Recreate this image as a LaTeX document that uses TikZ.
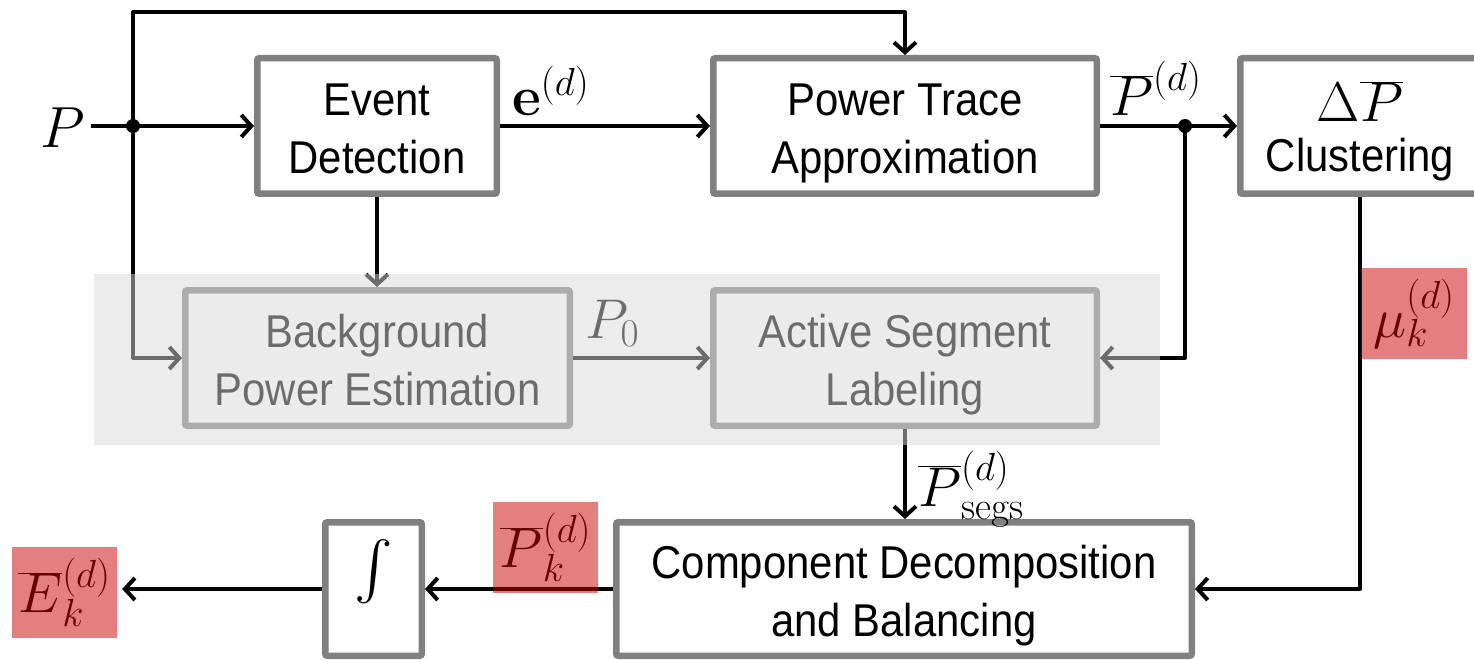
\RequirePackage{fix-cm}
\documentclass[tikz,border=0pt]{standalone}
\usepackage[no-math]{fontspec}
\setmainfont{Liberation Sans}[FakeStretch=0.91]
\usetikzlibrary{arrows.meta}
\definecolor{boxgray}{RGB}{128,128,128}
\definecolor{ovgray}{RGB}{217,217,217}
\definecolor{ovred}{RGB}{200,0,0}
\newcommand{\twoline}[2]{\rule{0pt}{37pt}\smash{#1}\\\smash{#2}}
\tikzset{
  box/.style={draw=boxgray, line width=6.5pt, rounded corners=2pt, fill=white,
    align=center, inner sep=0pt, font=\fontsize{46}{58}\selectfont},
  conn/.style={line width=4pt, line join=round},
  arr/.style={conn, -{Straight Barb[length=10pt,width=22pt]}},
  lbl/.style={inner sep=0pt, font=\fontsize{56}{60}\selectfont},
  hl/.style={inner sep=0pt, minimum width=105pt, minimum height=91pt, font=\fontsize{56}{60}\selectfont},
  grayov/.style={fill=ovgray, fill opacity=0.5},
  redov/.style={fill=ovred, fill opacity=0.5},
}
\begin{document}
\begin{tikzpicture}[x=1pt,y=-1pt]
\useasboundingbox (0,0) rectangle (1474,660);
% boxes
\node[box, minimum width=239.5pt, minimum height=135.5pt] (ed) at (377,126) {\twoline{Event}{Detection}};
\node[box, minimum width=383.5pt, minimum height=135.5pt] (pta) at (905,126) {\twoline{Power Trace}{Approximation}};
\node[box, minimum width=239.5pt, minimum height=135.5pt] (cl) at (1360,126)
  {\rule{0pt}{42pt}\smash{\fontsize{56}{56}\selectfont$\Delta\overline{P}$}\\[-8pt]\smash{Clustering}};
\node[box, minimum width=384.5pt, minimum height=135.5pt] (bg) at (377.5,358) {\twoline{Background}{Power Estimation}};
\node[box, minimum width=383.5pt, minimum height=135.5pt] (as) at (905,358) {\twoline{Active Segment}{Labeling}};
\node[box, minimum width=575.5pt, minimum height=133.5pt] (cd) at (904,589) {\twoline{Component Decomposition}{and Balancing}};
\node[box, minimum width=96.5pt, minimum height=133.5pt] (int) at (373.5,589) {\scalebox{5.8}{$\int$}};
% labels
\node[lbl, anchor=base west, font=\fontsize{58}{60}\selectfont] (p) at (40,148) {$P$};
\node[lbl, anchor=base west] (le) at (512,116) {$\mathbf{e}^{(d)}$};
\node[lbl, anchor=base west] (lp) at (1110,116) {$\overline{P}^{(d)}$};
\node[lbl, anchor=base west] (lp0) at (585,338) {$P_0$};
\node[lbl, anchor=base west] (lps) at (918,506) {$\overline{P}^{(d)}_{\mathrm{segs}}$};
\node[hl] (lmu) at (1414,313.5) {$\mu^{(d)}_k$};
\node[hl] (lpk) at (545.5,547.5) {$\overline{P}^{(d)}_k$};
\node[hl] (lek) at (64.5,592.5) {$\overline{E}^{(d)}_k$};
% junctions
\coordinate (j1) at (133,126);
\coordinate (j2) at (1185,126);
\coordinate (top) at (133,12);
% connectors
\draw[conn] ([xshift=6pt]p.east |- j1) -- (j1);
\draw[arr] (j1) -- (ed.west);
\draw[arr] (j1) -- (top) -| (pta.north);
\draw[arr] (j1) |- (bg.west);
\draw[arr] (ed.east) -- (pta.west);
\draw[arr] (ed.south) -- (ed.south |- bg.north);
\draw[arr] (bg.east) -- (as.west);
\draw[arr] (pta.east) -- (cl.west);
\draw[arr] (j2) |- (as.east);
\draw[arr] (as.south) -- (as.south |- cd.north);
\draw[arr] (cl.south) |- (cd.east);
\draw[arr] (cd.west) -- (int.east);
\draw[arr] (int.west) -- ([xshift=5pt]lek.east |- int.west);
\fill (j1) circle (7pt);
\fill (j2) circle (7pt);
% overlays
\fill[grayov] (94,274) rectangle (1160,445);
\fill[redov] (lmu.south west) rectangle (lmu.north east);
\fill[redov] (lpk.south west) rectangle (lpk.north east);
\fill[redov] (lek.south west) rectangle (lek.north east);
\end{tikzpicture}
\end{document}
